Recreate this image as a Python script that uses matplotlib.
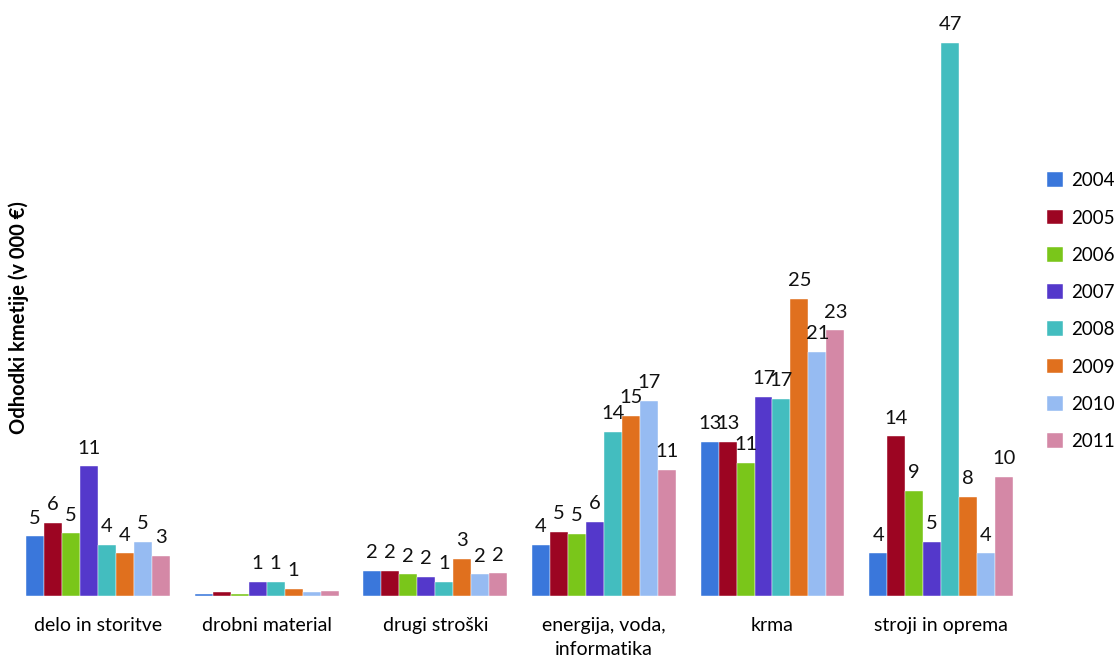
import numpy as np
import matplotlib
matplotlib.use('Agg')
import matplotlib.pyplot as plt

plt.rcParams['font.family'] = ['Lato', 'DejaVu Sans']

categories = ['delo in storitve', 'drobni material', 'drugi stroški',
              'energija, voda,\ninformatika', 'krma', 'stroji in oprema']
years = ['2004', '2005', '2006', '2007', '2008', '2009', '2010', '2011']

# odhodki po letih, v 000 €
values = {
    '2004': [5.05, 0.14, 2.1, 4.3, 13.1, 3.6],
    '2005': [6.2, 0.3, 2.1, 5.45, 13.1, 13.55],
    '2006': [5.3, 0.17, 1.8, 5.25, 11.3, 8.9],
    '2007': [11.0, 1.17, 1.6, 6.25, 16.9, 4.6],
    '2008': [4.3, 1.17, 1.2, 13.9, 16.7, 47.0],
    '2009': [3.6, 0.57, 3.1, 15.3, 25.2, 8.4],
    '2010': [4.6, 0.3, 1.8, 16.55, 20.7, 3.6],
    '2011': [3.4, 0.4, 1.9, 10.7, 22.55, 10.1],
}

colors = ['#3a77db', '#9c0522', '#7ac61a', '#5438cb',
          '#43bdbf', '#e0701e', '#96bbf2', '#d488a6']

fig = plt.figure(figsize=(11.17, 6.64), dpi=100)
ax = fig.add_axes([0.0123, 0.1029, 0.9057, 0.8861])

x = np.arange(len(categories))
w = 0.1066
for i, y in enumerate(years):
    pos = x + (i - 3.5) * w
    bars = ax.bar(pos, values[y], width=w, color=colors[i], label=y,
                  edgecolor='white', linewidth=0.3)
    for b, v in zip(bars, values[y]):
        if round(v) >= 1:
            ax.annotate(f'{v:.0f}', (b.get_x() + b.get_width() / 2, v),
                        xytext=(0, 7), textcoords='offset points',
                        ha='center', va='bottom', fontsize=14.5, color='#111111')

ax.set_xlim(-0.5, 5.5)
ax.set_ylim(0, 50)
ax.set_xticks(x)
ax.set_xticklabels(categories, fontsize=14, linespacing=1.55)
ax.tick_params(axis='x', length=0, pad=15)
ax.set_yticks([])
for s in ax.spines.values():
    s.set_visible(False)

fig.text(0.017, 0.521, 'Odhodki kmetije (v 000 €)', rotation=90, ha='center',
         va='center', fontsize=14.5, fontweight='bold')

leg = fig.legend(loc='upper left', bbox_to_anchor=(0.922, 0.766), frameon=False,
                 fontsize=13.5, handlelength=0.85, handleheight=0.85,
                 handletextpad=0.45, labelspacing=1.08)

fig.savefig('out.png', dpi=100)
